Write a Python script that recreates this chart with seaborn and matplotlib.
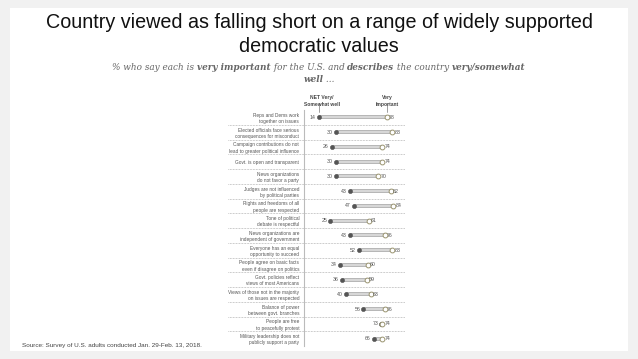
import matplotlib
matplotlib.use("Agg")
import matplotlib.pyplot as plt
import matplotlib.patches as mpatches
import matplotlib.transforms as mtransforms
import seaborn as sns
import pandas as pd

categories = [
    "Reps and Dems work\ntogether on issues",
    "Elected officials face serious\nconsequences for misconduct",
    "Campaign contributions do not\nlead to greater political influence",
    "Govt. is open and transparent",
    "News organizations\ndo not favor a party",
    "Judges are not influenced\nby political parties",
    "Rights and freedoms of all\npeople are respected",
    "Tone of political\ndebate is respectful",
    "News organizations are\nindependent of government",
    "Everyone has an equal\nopportunity to succeed",
    "People agree on basic facts\neven if disagree on politics",
    "Govt. policies reflect\nviews of most Americans",
    "Views of those not in the majority\non issues are respected",
    "Balance of power\nbetween govt. branches",
    "People are free\nto peacefully protest",
    "Military leadership does not\npublicly support a party",
]
describes_well = [14, 30, 26, 30, 30, 43, 47, 25, 43, 52, 34, 36, 40, 56, 73, 66]
very_important = [78, 83, 74, 74, 70, 82, 84, 61, 76, 83, 60, 59, 63, 76, 74, 74]

title_lines = ["Country viewed as falling short on a range of widely supported",
               "democratic values"]
subtitle_line1 = [("% who say each is ", "normal"), ("very important", "bold"),
                  (" for the U.S. and ", "normal"), ("describes", "bold"),
                  (" the country ", "normal"), ("very/somewhat", "bold")]
subtitle_line2 = [("well", "bold"), (" ...", "normal")]
source_text = "Source: Survey of U.S. adults conducted Jan. 29-Feb. 13, 2018."
header_left = "NET Very/\nSomewhat well"
header_right = "Very\nImportant"

df = pd.DataFrame({"cat": categories, "well": describes_well, "imp": very_important})
df["pos"] = range(len(df))

sns.set_theme(style="white")
plt.rcParams["font.family"] = ["Liberation Sans", "DejaVu Sans"]

W, H = 638, 359
fig = plt.figure(figsize=(W / 100, H / 100), dpi=100)
fig.patch.set_facecolor("#f1f1f1")
card = mpatches.Rectangle((10 / W, 1 - 351 / H), 618 / W, 343 / H,
                          transform=fig.transFigure, facecolor="white",
                          edgecolor="none", zorder=-10)
fig.add_artist(card)

def fx(px):
    return px / W

def fy(py):
    return 1 - py / H

# Title
fig.text(0.5, fy(22), title_lines[0], ha="center", va="center", fontsize=14.2, color="#111111")
fig.text(0.5, fy(47), title_lines[1], ha="center", va="center", fontsize=14.2, color="#111111")

# Subtitle with rich text
renderer = fig.canvas.get_renderer()
sub_color = "#666666"
sub_family = "DejaVu Serif"

def piece_widths(pieces, size):
    out = []
    for s, w in pieces:
        t = fig.text(0, 0, s, fontsize=size, fontstyle="italic", fontweight=w, family=sub_family)
        out.append(t.get_window_extent(renderer).width)
        t.remove()
    return out

base = 8.0
size = base * 416 / sum(piece_widths(subtitle_line1, base))

def draw_line(pieces, y_px, size):
    widths = piece_widths(pieces, size)
    x = W / 2 - sum(widths) / 2
    for (s, w), wd in zip(pieces, widths):
        fig.text(fx(x), fy(y_px), s, fontsize=size, fontstyle="italic", fontweight=w,
                 family=sub_family, color=sub_color, ha="left", va="center")
        x += wd

draw_line(subtitle_line1, 67, size)
draw_line(subtitle_line2, 79, size)

# Source
fig.text(fx(22), fy(345), source_text, fontsize=4.6, color="#444444", ha="left", va="center")

# Chart axes
ax_left, ax_right = 304, 405
ax_top, ax_bot = 110, 346
ax = fig.add_axes([fx(ax_left), fy(ax_bot), (ax_right - ax_left) / W, (ax_bot - ax_top) / H])
ax.set_facecolor("none")
ax.set_zorder(2)

ax.hlines(df["pos"], df["well"], df["imp"], color="#a6a6a6", lw=2.6, zorder=2)
ax.hlines(df["pos"], df["well"], df["imp"], color="#e2e2e2", lw=1.2, zorder=2.1)
sns.scatterplot(data=df, x="well", y="pos", ax=ax, s=9, color="#555555",
                edgecolor="#555555", linewidth=0.4, zorder=3, legend=False)
sns.scatterplot(data=df, x="imp", y="pos", ax=ax, s=12, color="white",
                edgecolor="#9a9470", linewidth=0.7, zorder=3, legend=False)

for _, r in df.iterrows():
    ax.text(r["well"] - 3.0, r["pos"], f"{r['well']}", ha="right", va="center",
            fontsize=3.8, color="#555555")
    ax.text(r["imp"] + 2.2, r["pos"], f"{r['imp']}", ha="left", va="center",
            fontsize=3.8, color="#555555")

ax.set_xlim(0, 95.3)
ax.set_ylim(len(df) - 0.5, -0.5)
ax.set_yticks(df["pos"])
ax.set_yticklabels(df["cat"], fontsize=3.4, color="#555555", linespacing=1.3)
ax.tick_params(axis="y", length=0, pad=3.5)
ax.set_xticks([])
ax.set_xlabel("")
ax.set_ylabel("")
for sp in ["top", "right", "bottom"]:
    ax.spines[sp].set_visible(False)
ax.spines["left"].set_color("#bbbbbb")
ax.spines["left"].set_linewidth(0.8)

for k in range(len(df) - 1):
    ax.axhline(k + 0.5, xmin=(228 - ax_left) / (ax_right - ax_left), xmax=1.0,
               color="#999999", lw=0.5, ls=(0, (1, 1.2)), clip_on=False, zorder=1)

# Header
trans = mtransforms.blended_transform_factory(ax.transData, fig.transFigure)
ax.text(17, fy(101), header_left, transform=trans, ha="center",
        va="center", fontsize=3.6, fontweight="bold", color="#444444", linespacing=1.3)
ax.text(78.3, fy(101), header_right, transform=trans, ha="center",
        va="center", fontsize=3.6, fontweight="bold", color="#444444", linespacing=1.3)
ax.plot([14, 14], [-0.95, -0.35], color="#777777", lw=0.5, clip_on=False)
ax.plot([78, 78], [-0.95, -0.35], color="#777777", lw=0.5, clip_on=False)

fig.savefig("out.png", dpi=100, facecolor=fig.get_facecolor())
